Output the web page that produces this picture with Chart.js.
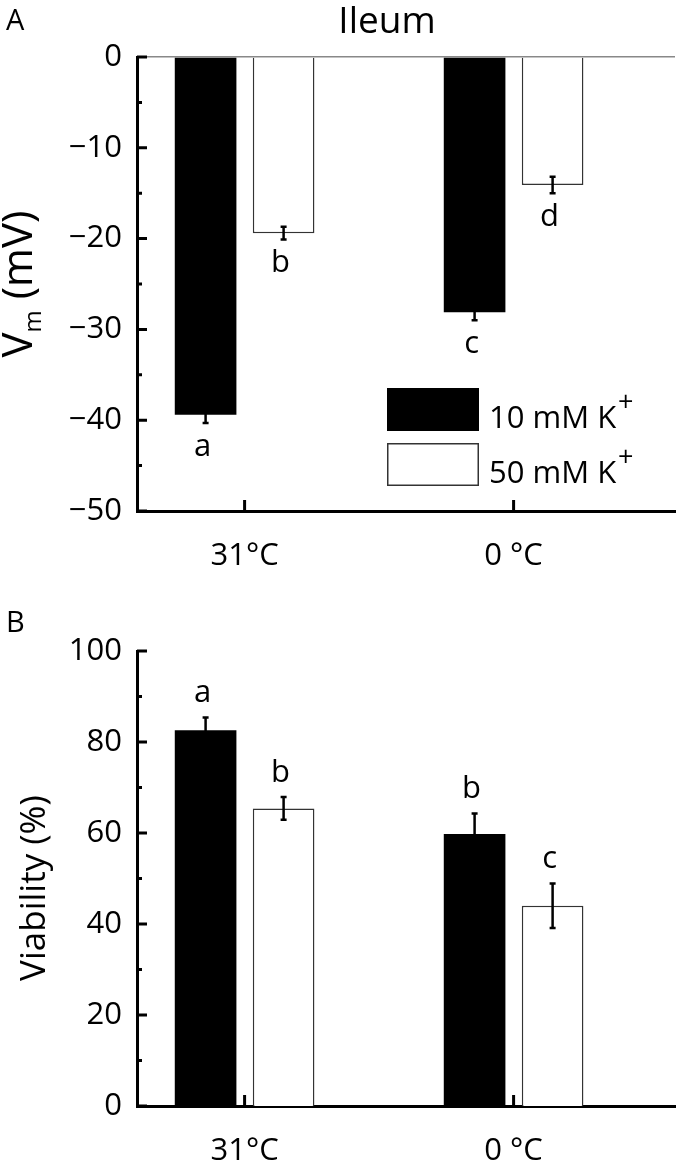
<!DOCTYPE html>
<html>
<head>
<meta charset="utf-8">
<title>Ileum</title>
<script src="https://cdn.jsdelivr.net/npm/chart.js@4.4.0/dist/chart.umd.min.js"></script>
<style>
    html, body { margin: 0; padding: 0; background: #fff; }
    #wrap { position: relative; width: 677px; height: 1166px; }
    .panel { position: absolute; left: 0; width: 677px; }
    #panelA { top: 0; height: 580px; }
    #panelB { top: 580px; height: 586px; }
    .txt {
        position: absolute;
        white-space: nowrap;
        font-family: "Open Sans", "DejaVu Sans", sans-serif;
        color: #000;
    }
    .ytitle { transform: translate(-50%, -50%) rotate(-90deg); }
    #ytA { left: 16px; top: 284px; font-size: 42px; line-height: 42px; }
    #ytA .sub { font-size: 24px; line-height: 0; vertical-align: -9px; }
    #ytB { left: 31px; top: 888px; font-size: 35px; line-height: 35px; }
    .plabel { left: 6px; font-size: 29px; line-height: 29px; }
    #plA { top: 4px; }
    #plB { top: 606px; }
</style>
</head>
<body>
<div id="wrap">
    <div class="panel" id="panelA"><canvas id="chartA" width="677" height="580"></canvas></div>
    <div class="panel" id="panelB"><canvas id="chartB" width="677" height="586"></canvas></div>
    <div class="txt plabel" id="plA">A</div>
    <div class="txt plabel" id="plB">B</div>
    <div class="txt ytitle" id="ytA">V<span class="sub">m</span>&nbsp;(mV)</div>
    <div class="txt ytitle" id="ytB">Viability (%)</div>
</div>
<script>
// ---- data ----
const temps = ['31°C', '0 °C'];
const seriesNames = ['10 mM K+', '50 mM K+'];

// panel A: membrane potential (mV)
const vm10 = [-39.4, -28.1];
const vm10Err = [0.9, 0.9];
const vm50 = [-19.4, -14.1];
const vm50Err = [0.7, 0.9];
const vm10Letters = ['a', 'c'];
const vm50Letters = ['b', 'd'];
const vmTicks = [0, -10, -20, -30, -40, -50];

// panel B: viability (%)
const via10 = [82.6, 59.8];
const via10Err = [2.8, 4.5];
const via50 = [65.4, 44.0];
const via50Err = [2.5, 4.9];
const via10Letters = ['a', 'b'];
const via50Letters = ['b', 'c'];
const viaTicks = [0, 20, 40, 60, 80, 100];

const FONT = '"Open Sans", "DejaVu Sans", sans-serif';

function toPoints(values) {
    return values.map((v, i) => ({ x: i + 1, y: v }));
}

function fmtTick(v) {
    return v < 0 ? '\u2212' + Math.abs(v) : String(v);
}

// error bars + significance letters
const marksPlugin = {
    id: 'marks',
    afterDatasetsDraw(chart, args, opts) {
        const ctx = chart.ctx;
        const y = chart.scales.y;
        const zero = y.getPixelForValue(0);
        ctx.save();
        chart.data.datasets.forEach((ds, d) => {
            const meta = chart.getDatasetMeta(d);
            meta.data.forEach((bar, i) => {
                const v = ds.data[i].y;
                const e = opts.errors[d][i];
                const y1 = y.getPixelForValue(v - e);
                const y2 = y.getPixelForValue(v + e);
                ctx.strokeStyle = '#000';
                ctx.lineWidth = 2.5;
                ctx.beginPath();
                ctx.moveTo(bar.x, y1); ctx.lineTo(bar.x, y2);
                ctx.moveTo(bar.x - 3, y1); ctx.lineTo(bar.x + 3, y1);
                ctx.moveTo(bar.x - 3, y2); ctx.lineTo(bar.x + 3, y2);
                ctx.stroke();

                const tip = y.getPixelForValue(v + Math.sign(v) * e);
                const dir = Math.sign(tip - zero);
                ctx.fillStyle = '#000';
                ctx.font = '31px ' + FONT;
                ctx.textAlign = 'center';
                ctx.textBaseline = 'middle';
                ctx.fillText(opts.letters[d][i], bar.x - 3, tip + dir * 24);
            });
        });
        ctx.restore();
    }
};

// inward axis ticks (major + minor on y, category ticks on x)
const axisTicksPlugin = {
    id: 'axisTicks',
    afterDraw(chart) {
        const { ctx, chartArea } = chart;
        const x = chart.scales.x;
        const y = chart.scales.y;
        const majors = y.ticks.map(t => t.value);
        ctx.save();
        ctx.strokeStyle = '#000';
        ctx.lineWidth = 3;
        ctx.beginPath();
        majors.forEach(v => {
            const py = y.getPixelForValue(v);
            ctx.moveTo(chartArea.left, py);
            ctx.lineTo(chartArea.left + 10, py);
        });
        for (let k = 0; k < majors.length - 1; k++) {
            const py = y.getPixelForValue((majors[k] + majors[k + 1]) / 2);
            ctx.moveTo(chartArea.left, py);
            ctx.lineTo(chartArea.left + 5, py);
        }
        x.ticks.forEach(t => {
            const px = x.getPixelForValue(t.value);
            ctx.moveTo(px, chartArea.bottom);
            ctx.lineTo(px, chartArea.bottom - 11);
        });
        ctx.stroke();
        ctx.restore();
    }
};

// box legend inside the plot
const boxLegendPlugin = {
    id: 'boxLegend',
    afterDraw(chart, args, o) {
        if (!o.show) return;
        const ctx = chart.ctx;
        ctx.save();
        chart.data.datasets.forEach((ds, d) => {
            const bx = o.x;
            const by = o.y + d * o.step;
            ctx.fillStyle = ds.backgroundColor;
            ctx.fillRect(bx, by, o.w, o.h);
            ctx.strokeStyle = ds.borderColor;
            ctx.lineWidth = 1.5;
            ctx.strokeRect(bx + 0.75, by + 0.75, o.w - 1.5, o.h - 1.5);

            const base = ds.label.slice(0, -1);
            const sup = ds.label.slice(-1);
            const tx = bx + o.w + 10;
            const baseline = by + o.h - 3;
            ctx.fillStyle = '#000';
            ctx.textAlign = 'left';
            ctx.textBaseline = 'alphabetic';
            ctx.font = '31px ' + FONT;
            ctx.fillText(base, tx, baseline);
            const wb = ctx.measureText(base).width;
            ctx.font = '27px ' + FONT;
            ctx.fillText(sup, tx + wb + 2, baseline - 17);
        });
        ctx.restore();
    }
};

// panel title
const panelTitlePlugin = {
    id: 'panelTitle',
    afterDraw(chart, args, o) {
        if (!o.text) return;
        const ctx = chart.ctx;
        ctx.save();
        ctx.fillStyle = '#000';
        ctx.textBaseline = 'alphabetic';
        ctx.textAlign = 'center';
        ctx.font = '37px ' + FONT;
        ctx.fillText(o.text, o.x, o.y);
        ctx.restore();
    }
};

function makeChart(canvasId, cfg) {
    return new Chart(document.getElementById(canvasId), {
        type: 'bar',
        data: {
            datasets: [{
                label: seriesNames[0],
                data: toPoints(cfg.s10),
                backgroundColor: '#000',
                borderColor: '#000',
                borderWidth: 0
            }, {
                label: seriesNames[1],
                data: toPoints(cfg.s50),
                backgroundColor: '#fff',
                borderColor: '#333',
                borderWidth: 1.5
            }]
        },
        options: {
            responsive: false,
            animation: false,
            devicePixelRatio: 1,
            categoryPercentage: 0.58,
            barPercentage: 0.79,
            layout: { padding: { top: cfg.top, right: 2, left: 0, bottom: 0 } },
            plugins: {
                legend: { display: false },
                tooltip: { enabled: false },
                marks: { errors: cfg.errors, letters: cfg.letters },
                boxLegend: cfg.legend,
                panelTitle: cfg.title
            },
            scales: {
                x: {
                    type: 'linear',
                    min: 0.6,
                    max: 2.6,
                    offset: false,
                    afterBuildTicks: s => { s.ticks = temps.map((t, i) => ({ value: i + 1 })); },
                    afterFit: s => { s.height = cfg.xHeight; },
                    ticks: {
                        callback: v => temps[v - 1],
                        font: { family: FONT, size: 31 },
                        color: '#000',
                        padding: 27,
                        maxRotation: 0
                    },
                    grid: { display: false, drawTicks: false, offset: false },
                    border: { color: '#000', width: 3 }
                },
                y: {
                    min: cfg.min,
                    max: cfg.max,
                    afterBuildTicks: s => {
                        s.ticks = cfg.ticks.slice().sort((a, b) => a - b).map(v => ({ value: v }));
                    },
                    afterFit: s => { s.width = 137; },
                    ticks: {
                        callback: v => fmtTick(v),
                        font: { family: FONT, size: 31 },
                        color: '#000',
                        padding: 15
                    },
                    grid: {
                        display: cfg.zeroLine,
                        drawTicks: false,
                        color: c => (c.tick && c.tick.value === 0) ? '#888' : 'rgba(0,0,0,0)',
                        lineWidth: 1.5
                    },
                    border: { color: '#000', width: 3 }
                }
            }
        },
        plugins: [marksPlugin, axisTicksPlugin, boxLegendPlugin, panelTitlePlugin]
    });
}

makeChart('chartA', {
    s10: vm10, s50: vm50,
    errors: [vm10Err, vm50Err],
    letters: [vm10Letters, vm50Letters],
    min: -50, max: 0, ticks: vmTicks,
    top: 57, xHeight: 69, zeroLine: true,
    legend: { show: true, x: 387, y: 388, w: 92, h: 43, step: 55 },
    title: { text: 'Ileum', x: 387, y: 33 }
});

makeChart('chartB', {
    s10: via10, s50: via50,
    errors: [via10Err, via50Err],
    letters: [via10Letters, via50Letters],
    min: 0, max: 100, ticks: viaTicks,
    top: 71, xHeight: 60, zeroLine: false,
    legend: { show: false },
    title: { text: '' }
});
</script>
</body>
</html>
